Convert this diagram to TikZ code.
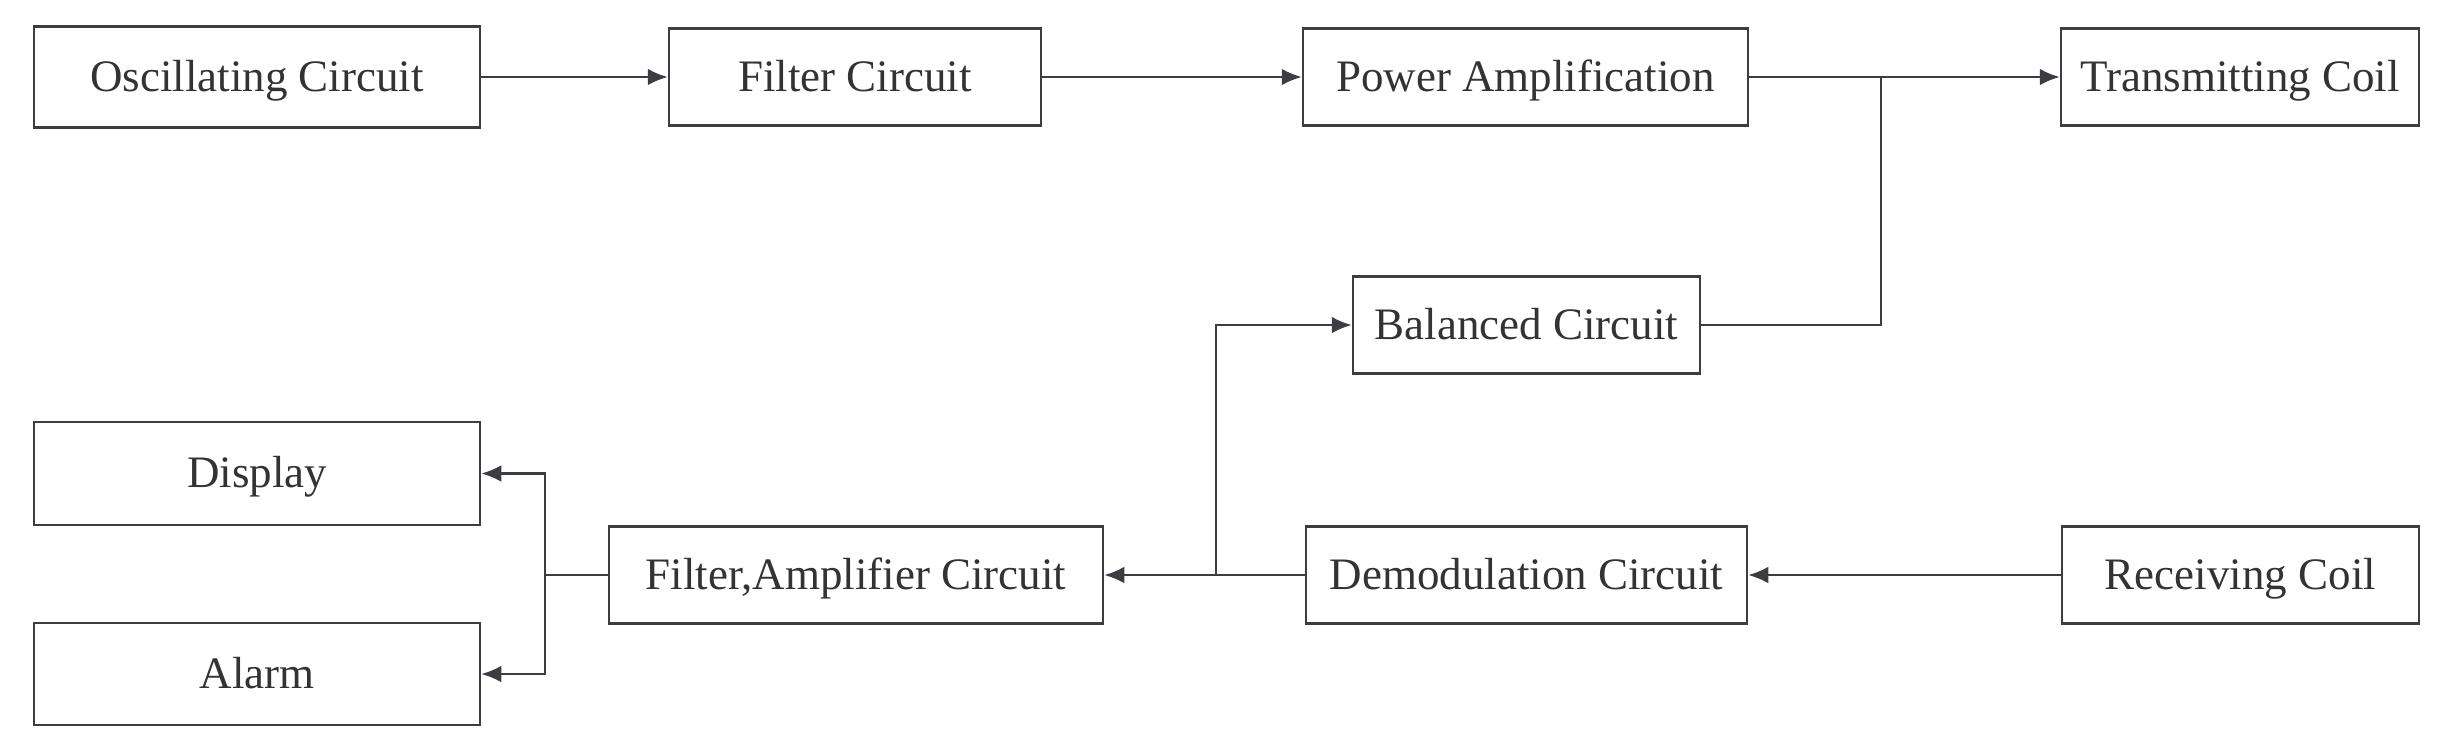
\documentclass[tikz,border=0pt]{standalone}
\usepackage{fontspec}
\setmainfont{Liberation Serif}
\usetikzlibrary{arrows.meta}
\definecolor{ln}{HTML}{3A3D42}
\definecolor{tx}{HTML}{333333}
\begin{document}
\begin{tikzpicture}[x=0.3pt,y=-0.3pt,
 blk/.style={draw=ln, line width=0.75pt, fill=white, text=tx, font=\fontsize{13.5}{16}\selectfont, inner sep=0pt, text height=0.86em, text depth=0pt, minimum height=29.1pt},
 conn/.style={draw=ln, line width=0.7pt},
 arr/.style={conn, -{Latex[length=6pt,width=5pt]}}]
\useasboundingbox[fill=white] (0,0) rectangle (2450,754);
\node[blk, minimum width=133.8pt, minimum height=30.3pt] (osc) at (257,77) {Oscillating Circuit};
\node[blk, minimum width=111.6pt] (filt) at (855,77) {Filter Circuit};
\node[blk, minimum width=133.5pt] (pow) at (1525.5,77) {Power Amplification};
\node[blk, minimum width=107.4pt] (tc) at (2240,77) {Transmitting Coil};
\node[blk, minimum width=104.1pt] (bal) at (1526.5,325) {Balanced Circuit};
\node[blk, minimum width=133.8pt, minimum height=30.9pt] (disp) at (257,473.5) {Display};
\node[blk, minimum width=133.8pt, minimum height=30.6pt] (alarm) at (257,674) {Alarm};
\node[blk, minimum width=148.2pt] (fa) at (856,575) {Filter,Amplifier Circuit};
\node[blk, minimum width=132.3pt] (dem) at (1526.5,575) {Demodulation Circuit};
\node[blk, minimum width=107.1pt] (rc) at (2240.5,575) {Receiving Coil};
\draw[arr] (osc) -- (filt);
\draw[arr] (filt) -- (pow);
\draw[arr] (pow) -- (tc);
\coordinate (j1) at (1881,77);
\draw[conn] (bal.east) -| (j1);
\draw[arr] (rc) -- (dem);
\draw[arr] (dem) -- (fa);
\coordinate (j2) at (1216,575);
\draw[arr] (j2) |- (bal.west);
\coordinate (j3) at (545,575);
\draw[conn] (fa.west) -- (j3);
\draw[arr] (j3) |- (disp.east);
\draw[arr] (j3) |- (alarm.east);
\end{tikzpicture}
\end{document}
